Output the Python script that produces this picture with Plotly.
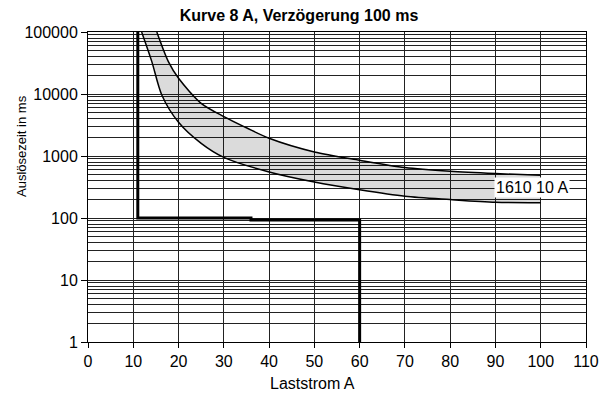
import plotly.graph_objects as go
import numpy as np

# Step characteristic (delay curve 8 A, 100 ms)
step_x = [11, 11, 36, 36, 60, 60]
step_y = [100000, 100, 100, 93, 93, 1]

# Band of fuse 1610 10 A
upper_x = [15.2, 17.75, 20, 25, 30, 35, 40, 50, 60, 70, 80, 90, 100]
upper_y = [100000, 33300, 17900, 7080, 4320, 2850, 1930, 1160, 853, 650, 566, 520, 488]
lower_x = [11.85, 14.1, 16.3, 20, 25, 30, 40, 50, 60, 70, 80, 90, 100]
lower_y = [100000, 33300, 9640, 3500, 1600, 950, 552, 380, 285, 224, 198, 179, 177]

x_ticks = list(range(0, 111, 10))
y_ticks = [1, 10, 100, 1000, 10000, 100000]
y_tick_text = ["1", "10", "100", "1000", "10000", "100000"]
y_minor = [m * 10 ** k for k in range(0, 5) for m in range(2, 10)]

FONT = "Liberation Sans, Arial, sans-serif"
NARROW = "Liberation Sans Narrow, Arial Narrow, Liberation Sans, sans-serif"
W, H = 601, 396
L, R, T, B = 88, 15, 32, 54
PW, PH = W - L - R, H - T - B


def px_x(px):
    return (px - L) / PW


def px_y(py):
    return (H - B - py) / PH


fig = go.Figure()
fig.add_trace(go.Scatter(
    x=upper_x + lower_x[::-1], y=upper_y + lower_y[::-1],
    fill="toself", fillcolor="rgba(0,0,0,0.14)", line=dict(width=0),
    mode="lines", hoverinfo="skip", showlegend=False))
fig.add_trace(go.Scatter(x=upper_x, y=upper_y, mode="lines",
                         line=dict(color="black", width=1.5, shape="spline", smoothing=0.8),
                         showlegend=False))
fig.add_trace(go.Scatter(x=lower_x, y=lower_y, mode="lines",
                         line=dict(color="black", width=1.5, shape="spline", smoothing=0.8),
                         showlegend=False))
fig.add_trace(go.Scatter(x=step_x, y=step_y, mode="lines",
                         line=dict(color="black", width=3), showlegend=False))

fig.update_layout(
    width=W, height=H,
    margin=dict(l=L, r=R, t=T, b=B, autoexpand=False),
    paper_bgcolor="white", plot_bgcolor="white",
    title=dict(text="<b>Kurve 8 A, Verzögerung 100 ms</b>", x=299 / W, xanchor="center",
               y=1 - 15 / H, yanchor="middle",
               font=dict(family=FONT, size=16, color="black")),
    font=dict(family=FONT, size=16, color="black"),
)

fig.add_annotation(x=98, y=np.log10(316), text="1610 10 A", showarrow=False,
                   bgcolor="white", font=dict(family=FONT, size=16, color="black"),
                   borderpad=1)
fig.add_annotation(x=px_x(312.5), y=px_y(383), xref="paper", yref="paper",
                   text="Laststrom A", showarrow=False, yanchor="middle",
                   xanchor="center", font=dict(family=FONT, size=16, color="black"))
fig.add_annotation(x=px_x(21.5), y=px_y(146.5), xref="paper", yref="paper",
                   text="Auslösezeit in ms", showarrow=False, textangle=-90,
                   xanchor="center", yanchor="middle",
                   font=dict(family=NARROW, size=13, color="black"))

fig.update_xaxes(range=[0, 110], tickvals=x_ticks, ticks="outside", ticklen=5,
                 tickcolor="black", showgrid=True, gridcolor="#222", gridwidth=1,
                 showline=True, linecolor="black", linewidth=1, mirror=True,
                 zeroline=False, tickfont=dict(family=FONT, size=16))
fig.update_yaxes(type="log", range=[0, 5], tickvals=y_ticks, ticktext=y_tick_text,
                 ticks="outside", ticklen=6, tickcolor="black",
                 showgrid=True, gridcolor="#222", gridwidth=1,
                 minor=dict(tickvals=y_minor, showgrid=True, gridcolor="#222",
                            gridwidth=1, ticks=""),
                 showline=True, linecolor="black", linewidth=1, mirror=True,
                 zeroline=False, tickfont=dict(family=FONT, size=16))

fig.write_html("out.html", config={"displayModeBar": False},
               post_script="document.body.style.margin='0';document.body.style.overflow='hidden';")
